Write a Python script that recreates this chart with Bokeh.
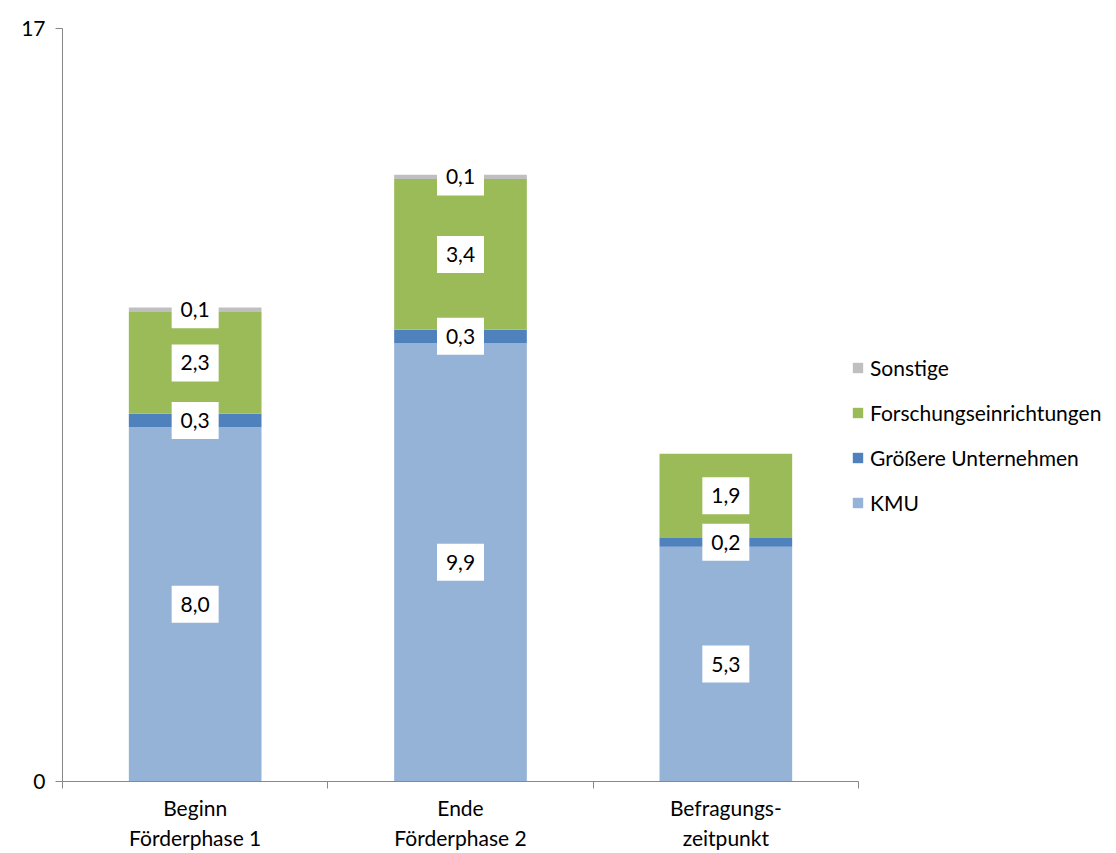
from bokeh.plotting import figure
from bokeh.models import FixedTicker, Range1d, Legend, LegendItem, ColumnDataSource
from bokeh.core.properties import value
from bokeh.embed import file_html
from bokeh.resources import INLINE

categories = ["Beginn\nFörderphase 1", "Ende\nFörderphase 2", "Befragungs-\nzeitpunkt"]
series = ["KMU", "Größere Unternehmen", "Forschungseinrichtungen", "Sonstige"]
kmu = [8.0, 9.9, 5.3]
groessere = [0.3, 0.3, 0.2]
forschung = [2.3, 3.4, 1.9]
sonstige = [0.1, 0.1, 0.0]
colors = ["#95B3D7", "#4F81BD", "#9BBB59", "#BFBFBF"]
y_ticks = [0, 17]

FONT = "Lato"
FS = "21px"
xs = [i + 0.5 for i in range(len(categories))]
data = {"x": xs, "KMU": kmu, "Größere Unternehmen": groessere,
        "Forschungseinrichtungen": forschung, "Sonstige": sonstige}
src = ColumnDataSource(data)

p = figure(frame_width=796, frame_height=753, min_border_left=62, min_border_top=28,
           min_border_right=0, min_border_bottom=10,
           x_range=Range1d(0, len(categories)), y_range=Range1d(0, 17),
           output_backend="svg", toolbar_location=None)
p.outline_line_color = None
p.xgrid.visible = False
p.ygrid.visible = False

renderers = p.vbar_stack(series, x="x", width=0.5, color=colors, line_color=None, source=src)

# value labels
lx, ly, lt = [], [], []
vals = [kmu, groessere, forschung, sonstige]
for i in range(len(categories)):
    base = 0.0
    for s in vals:
        v = s[i]
        if v > 0:
            lx.append(xs[i])
            ly.append(base + v / 2)
            lt.append(f"{v:.1f}".replace(".", ","))
        base += v
p.rect(x=lx, y=ly, width=47, height=37, width_units="screen", height_units="screen",
       fill_color="white", line_color=None)
p.text(x=lx, y=ly, text=lt, text_align="center", text_baseline="middle",
       text_font=value(FONT), text_font_size=FS, text_color="black")

# axes
axcol = "#888888"
xa = p.xaxis[0]
xa.ticker = FixedTicker(ticks=xs, minor_ticks=list(range(len(categories) + 1)))
xa.major_label_overrides = {x: c for x, c in zip(xs, categories)}
xa.major_tick_out = 0
xa.major_tick_in = 0
xa.minor_tick_out = 7
xa.minor_tick_in = 0
xa.minor_tick_line_color = axcol
xa.axis_line_color = axcol
xa.major_label_standoff = 6
xa.major_label_text_font = FONT
xa.major_label_text_font_size = FS
xa.major_label_text_color = "black"
xa.major_label_text_line_height = 1.2

ya = p.yaxis[0]
ya.ticker = FixedTicker(ticks=y_ticks, minor_ticks=[])
ya.major_tick_out = 7
ya.major_tick_in = 0
ya.major_tick_line_color = axcol
ya.axis_line_color = axcol
ya.major_label_standoff = 10
ya.major_label_text_font = FONT
ya.major_label_text_font_size = FS
ya.major_label_text_color = "black"

items = [LegendItem(label=s, renderers=[r]) for s, r in zip(series, renderers)][::-1]
legend = Legend(items=items, location=(-7, 266), orientation="vertical",
                glyph_width=13, glyph_height=13, label_height=20, spacing=20,
                label_standoff=6, padding=0, margin=0, border_line_color=None,
                background_fill_alpha=0, label_text_font=FONT,
                label_text_font_size=FS, label_text_color="black")
p.add_layout(legend, "right")

open("out.html", "w").write(file_html(p, INLINE))
